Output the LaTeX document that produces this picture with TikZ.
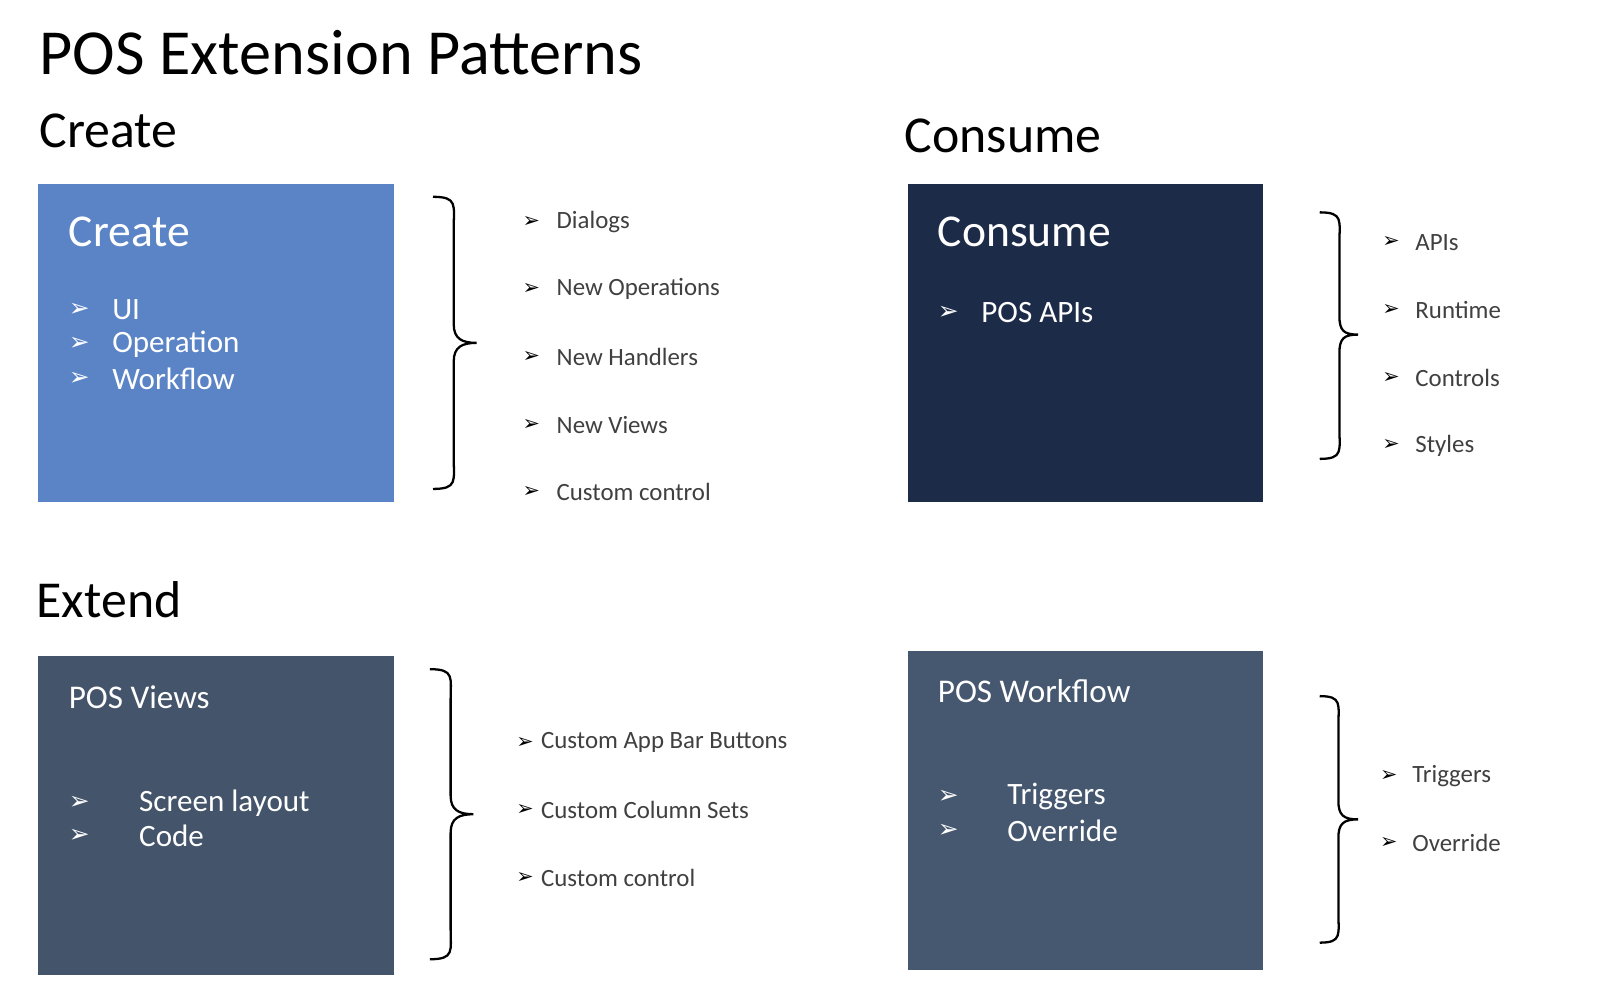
\documentclass[tikz,border=0pt]{standalone}
\usepackage{fontspec}
\setmainfont{Carlito}
\newfontfamily\arr{DejaVu Sans}
\begin{document}
\begin{tikzpicture}[x=0.5pt,y=-0.5pt,
 head/.style={anchor=base west,inner sep=0pt,text=black},
 boxt/.style={anchor=base west,inner sep=0pt,text=white},
 item/.style={anchor=west,inner sep=0pt,text=black!75,font=\fontsize{12}{14}\selectfont},
 bar/.style={anchor=west,inner sep=0pt,font=\arr\fontsize{10}{12}\selectfont}]
\definecolor{cA}{HTML}{5B84C6}\definecolor{cB}{HTML}{1C2B48}
\definecolor{cC}{HTML}{44546A}\definecolor{cD}{HTML}{465870}
\useasboundingbox (0,0) rectangle (1560,956);
\fill[white] (0,0) rectangle (1560,956);
\node[head,font=\fontsize{31}{36}\selectfont] (title) at (38,72) {POS Extension Patterns};
\node[head,font=\fontsize{25}{30}\selectfont] (hc) at (38,142) {Create};
\node[head,font=\fontsize{25}{30}\selectfont] (hs) at (873,147) {Consume};
\node[head,font=\fontsize{25}{30}\selectfont] (he) at (35,596) {Extend};
\fill[cA] (37,178) rectangle (380,485);
\fill[cB] (877,178) rectangle (1219,485);
\fill[cC] (37,633) rectangle (380,941);
\fill[cD] (877,628) rectangle (1219,936);
\node[boxt,font=\fontsize{22}{26}\selectfont] (b1) at (66,238) {Create};
\node[boxt,font=\fontsize{22}{26}\selectfont] (b2) at (905,238) {Consume};
\node[boxt,font=\fontsize{16}{20}\selectfont] (b3) at (66,684) {POS Views};
\node[boxt,font=\fontsize{16}{20}\selectfont] (b4) at (905,678) {POS Workflow};
\foreach \t/\y [count=\i] in {UI/299,Operation/332,Workflow/366}{
 \node[bar,text=white,font=\arr\fontsize{12}{14}\selectfont] (ua\i) at (66,\y) {➢};
 \node[item,text=white,font=\fontsize{15}{18}\selectfont] (u\i) at (108,\y) {\t};}
\node[bar,text=white,font=\arr\fontsize{12}{14}\selectfont] (pa) at (905,302) {➢};
\node[item,text=white,font=\fontsize{15}{18}\selectfont] (p) at (947,302) {POS APIs};
\foreach \t/\y [count=\i] in {Screen layout/775,Code/807}{
 \node[bar,text=white,font=\arr\fontsize{12}{14}\selectfont] (va\i) at (66,\y) {➢};
 \node[item,text=white,font=\fontsize{15}{18}\selectfont] (v\i) at (134,\y) {\t};}
\foreach \t/\y [count=\i] in {Triggers/769,Override/802}{
 \node[bar,text=white,font=\arr\fontsize{12}{14}\selectfont] (wa\i) at (905,\y) {➢};
 \node[item,text=white,font=\fontsize{15}{18}\selectfont] (w\i) at (972,\y) {\t};}
\foreach \t/\y [count=\i] in {Dialogs/214,New Operations/279,New Handlers/345,New Views/410,Custom control/475}{
 \node[bar] (la\i) at (504,\y) {➢}; \node[item] (l\i) at (537,\y) {\t};}
\foreach \t/\y [count=\i] in {APIs/234,Runtime/299,Controls/365,Styles/430}{
 \node[bar] (ma\i) at (1334,\y) {➢}; \node[item] (m\i) at (1366,\y) {\t};}
\foreach \t/\y [count=\i] in {Custom App Bar Buttons/717,Custom Column Sets/782,Custom control/848}{
 \node[bar] (na\i) at (498,\y) {➢}; \node[item] (n\i) at (522,\y) {\t};}
\foreach \t/\y [count=\i] in {Triggers/749,Override/814}{
 \node[bar] (oa\i) at (1332,\y) {➢}; \node[item] (o\i) at (1363,\y) {\t};}
\newcommand\mybrace[5]{% xl xm xr ytop ymid ybot
 \draw[line width=1.1pt] (#1,#4) .. controls (#2+4,#4) and (#2,#4+8) .. (#2,#4+30)
  -- (#2,#5-18) .. controls (#2,#5-4) and (#3-14,#5) .. (#3,#5)
  .. controls (#3-14,#5) and (#2,#5+4) .. (#2,#5+18)
  -- (#2,\ybot-30) .. controls (#2,\ybot-8) and (#2+4,\ybot) .. (#1,\ybot);}
\def\ybot{472}\mybrace{418}{438}{460}{190}{331}
\def\ybot{443}\mybrace{1274}{1293}{1311}{205}{323}
\def\ybot{926}\mybrace{415}{435}{457}{646}{786}
\def\ybot{910}\mybrace{1274}{1292}{1311}{672}{791}
\end{tikzpicture}
\end{document}
